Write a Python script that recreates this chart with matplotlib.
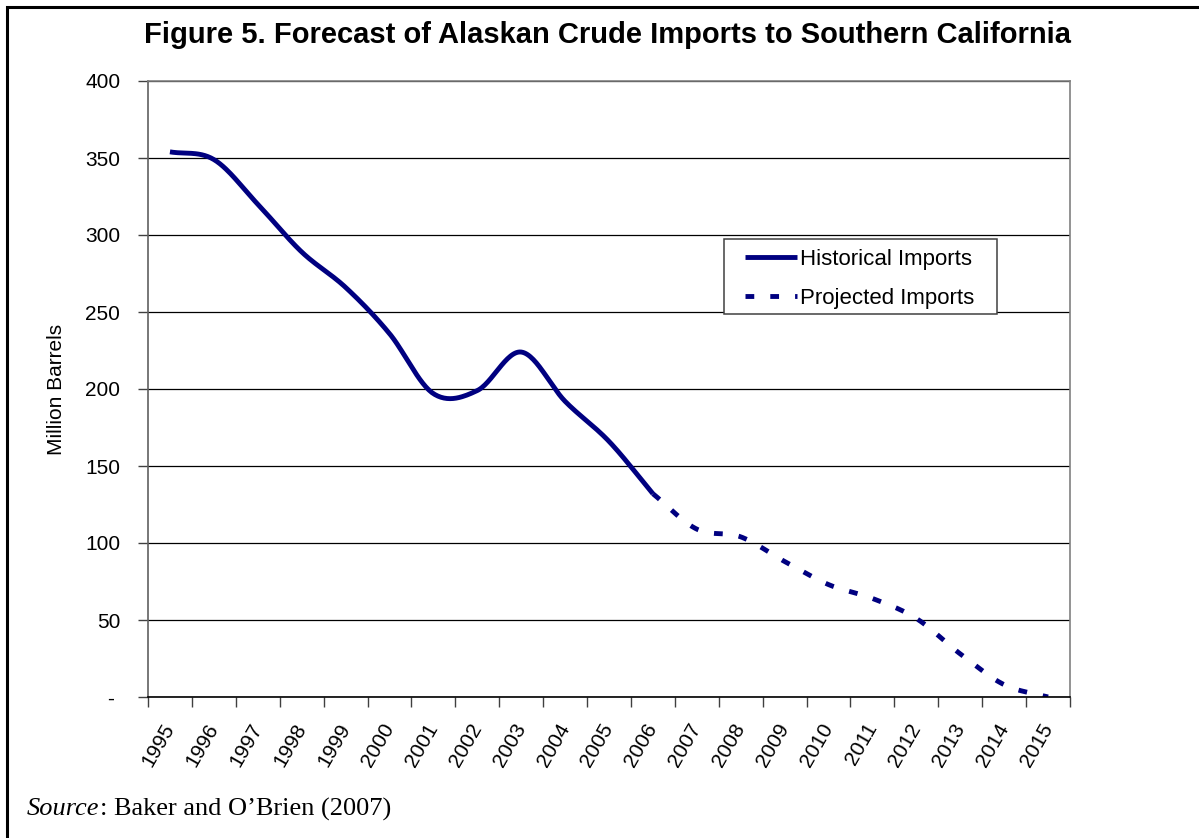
import numpy as np
import matplotlib
matplotlib.use("Agg")
import matplotlib.pyplot as plt
from matplotlib.patches import Rectangle

# data (million barrels)
years = [str(y) for y in range(1995, 2016)]
hist_years = years[:12]          # 1995-2006
hist_values = [354, 349, 320, 289, 266, 236, 197, 199, 224, 192, 166, 132]
proj_years = years[11:]          # 2006-2015
proj_values = [132, 109, 104, 88, 73, 64, 51, 28, 8, 0]

y_ticks = [0, 50, 100, 150, 200, 250, 300, 350, 400]
y_tick_labels = ['- ', '50', '100', '150', '200', '250', '300', '350', '400']

navy = '#000080'


def smooth(x, y, n=30):
    # excel-like smoothed line (catmull-rom through the data points)
    x = np.asarray(x, float)
    y = np.asarray(y, float)
    px = np.concatenate([[2 * x[0] - x[1]], x, [2 * x[-1] - x[-2]]])
    py = np.concatenate([[2 * y[0] - y[1]], y, [2 * y[-1] - y[-2]]])
    xs, ys = [], []
    t = np.linspace(0, 1, n)
    for i in range(1, len(px) - 2):
        p0, p1, p2, p3 = (np.array([px[j], py[j]]) for j in range(i - 1, i + 3))
        c1 = p1 + (p2 - p0) / 6
        c2 = p2 - (p3 - p1) / 6
        b = ((1 - t) ** 3)[:, None] * p1 + (3 * (1 - t) ** 2 * t)[:, None] * c1 \
            + (3 * (1 - t) * t ** 2)[:, None] * c2 + (t ** 3)[:, None] * p2
        xs.append(b[:, 0])
        ys.append(b[:, 1])
    return np.concatenate(xs), np.concatenate(ys)


plt.rcParams['font.family'] = ['Liberation Sans', 'DejaVu Sans']

fig = plt.figure(figsize=(11.99, 8.38), dpi=100)
ax = fig.add_axes([148 / 1199, 1 - 697 / 838, (1070 - 148) / 1199, (697 - 81) / 838])

hx = [years.index(y) for y in hist_years]
px = [years.index(y) for y in proj_years]

sx, sy = smooth(hx, hist_values)
ax.plot(sx, sy, color=navy, lw=3.5, solid_capstyle='butt', label='Historical Imports')
sx, sy = smooth(px, proj_values)
ax.plot(sx, sy, color=navy, lw=3.5, dashes=(1.8, 3.3), dash_capstyle='butt',
        label='Projected Imports', zorder=1.9)

ax.set_xlim(-0.5, len(years) - 0.5)
ax.set_ylim(0, 400)

ax.set_yticks(y_ticks)
ax.set_yticklabels(y_tick_labels, fontsize=15)
ax.tick_params(axis='y', length=7, width=1, color='#404040', pad=13)
ax.yaxis.grid(True, color='black', lw=0.9)
ax.set_axisbelow(True)

ax.set_xticks(np.arange(-0.5, len(years), 1.0))
ax.set_xticklabels([])
ax.set_xticks(np.arange(len(years)), minor=True)
ax.set_xticklabels(years, minor=True, fontsize=15, rotation=60, ha='right',
                   va='center', rotation_mode='anchor')
ax.tick_params(axis='x', which='major', length=7, width=1, color='#404040')
ax.tick_params(axis='x', which='minor', length=0, pad=20)

for s in ['top', 'right']:
    ax.spines[s].set_color('#808080')
ax.spines['left'].set_color('#606060')
ax.spines['bottom'].set_color('black')
for s in ax.spines.values():
    s.set_linewidth(1.2)

ax.set_ylabel('Million Barrels', fontsize=15, labelpad=14)

# legend box, then the entries inside it
ax.add_patch(Rectangle(((724 - 148) / 922, (697 - 314) / 616), (997 - 724) / 922, 75 / 616,
                       transform=ax.transAxes, facecolor='white', edgecolor='#404040',
                       lw=1.1, zorder=4.5))
ax.legend(loc='upper left', bbox_to_anchor=((745 - 148) / 922, (697 - 249) / 616),
          borderaxespad=0, borderpad=0, frameon=False, fontsize=16,
          handlelength=2.36, handletextpad=0.1, labelspacing=0.8)

fig.text(0.507, 1 - 35 / 838, 'Figure 5. Forecast of Alaskan Crude Imports to Southern California',
         ha='center', va='center', fontsize=21, fontweight='bold')

t = fig.text(27 / 1199, 1 - 809 / 838, 'Source', fontsize=19, va='center',
             family='Liberation Serif', style='italic')
fig.canvas.draw()
bb = t.get_window_extent()
fig.text(bb.x1 / 1199, 1 - 809 / 838, ': Baker and O\u2019Brien (2007)', fontsize=19,
         va='center', family='Liberation Serif')

# black frame around the chart (cropped at right and bottom)
fig.add_artist(Rectangle((7 / 1199, -0.2), 1.5, 1.2 - 7 / 838, transform=fig.transFigure,
                         fill=False, edgecolor='black', lw=2.2))

fig.savefig('out.png', dpi=100)
